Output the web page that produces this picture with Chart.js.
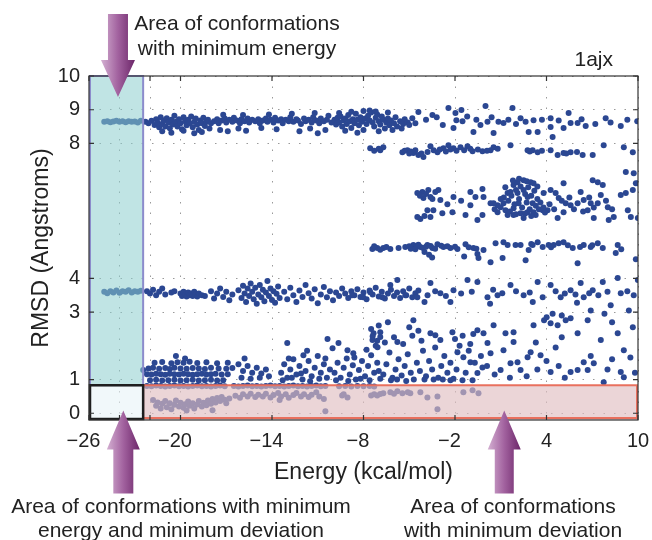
<!DOCTYPE html>
<html>
<head>
<meta charset="utf-8">
<script src="https://cdn.jsdelivr.net/npm/chart.js@4.4.1/dist/chart.umd.min.js"></script>
<style>
  html, body { margin: 0; padding: 0; background: #fff; }
  canvas { display: block; }
</style>
</head>
<body>
<canvas id="rmsdChart" width="652" height="540"></canvas>
<script>
// Axis ticks
const energyTicks = [-26, -24, -22, -20, -14, -8, -2, 4, 10];
const energyLabelled = [-26, -20, -14, -8, -2, 4, 10];
const rmsdTicks = [0, 1, 3, 4, 8, 9, 10];

// Highlighted areas (energy split and rmsd limit)
const minEnergyEdge = -22.45;
const minRmsdEdge = 0.83;

// [energy, rmsd] of each conformation, grouped by rmsd band
const band9 = [
  [-25.0,8.64],[-24.8,8.66],[-24.6,8.63],[-24.4,8.65],[-24.2,8.67],[-24.0,8.64],[-23.8,8.66],[-23.6,8.63],[-23.4,8.66],[-23.2,8.64],[-23.0,8.65],[-22.8,8.62],[-22.6,8.67],
  [-22.3,8.64],[-22.1,8.60],[-21.9,8.67],[-21.7,8.55],[-21.6,8.72],[-21.5,8.62],[-21.4,8.48],[-21.3,8.78],[-21.2,8.58],[-21.1,8.68],[-21.0,8.50],[-20.9,8.75],[-20.8,8.62],[-20.7,8.45],[-20.6,8.70],[-20.5,8.56],[-20.4,8.82],[-20.3,8.64],[-20.2,8.50],[-20.1,8.72],[-20.0,8.60],[-19.9,8.42],[-19.8,8.78],[-19.7,8.66],[-19.6,8.54],[-19.5,8.70],[-19.4,8.60],[-19.3,8.80],[-19.2,8.48],[-19.1,8.64],[-19.0,8.74],[-18.9,8.56],[-18.8,8.40],[-18.7,8.68],[-18.6,8.60],[-18.5,8.76],[-18.4,8.52],[-18.3,8.64],[-18.2,8.70],[-18.1,8.44],[-18.0,8.60],
  [-21.2,8.36],[-20.6,8.32],[-19.8,8.38],[-19.1,8.30],[-18.6,8.34],
  [-17.8,8.66],[-17.6,8.72],[-17.5,8.60],[-17.3,8.68],[-17.1,8.74],[-17.0,8.62],[-16.8,8.70],[-16.6,8.64],[-16.5,8.76],[-16.3,8.68],[-16.1,8.60],[-16.0,8.72],[-15.8,8.66],[-15.6,8.74],[-15.5,8.62],[-15.3,8.70],[-15.1,8.66],[-14.9,8.72],[-14.8,8.60],[-14.6,8.68],[-14.4,8.74],[-14.3,8.64],[-14.1,8.70],[-13.9,8.62],[-13.8,8.76],[-13.6,8.68],[-13.4,8.72],[-13.3,8.60],[-13.1,8.70],[-12.9,8.66],[-12.8,8.78],[-12.6,8.64],[-12.4,8.72],[-12.3,8.68],[-12.1,8.58],[-11.9,8.74],[-11.8,8.66],[-11.6,8.70],[-11.4,8.62],[-11.3,8.78],[-11.1,8.68],[-10.9,8.60],[-10.8,8.74],[-10.6,8.66],[-10.4,8.70],[-10.3,8.82],[-10.1,8.62],
  [-17.4,8.40],[-16.9,8.36],[-16.2,8.44],[-15.7,8.38],[-14.7,8.46],[-13.7,8.42],[-12.2,8.36],[-11.5,8.44],[-11.0,8.30],[-10.5,8.40],
  [-17.2,8.85],[-15.9,8.84],[-14.2,8.86],[-12.7,8.88],[-11.2,8.90],
  [-9.9,8.70],[-9.8,8.56],[-9.7,8.76],[-9.6,8.62],[-9.5,8.80],[-9.4,8.50],[-9.3,8.68],[-9.2,8.74],[-9.1,8.58],[-9.0,8.84],[-8.9,8.66],[-8.8,8.46],[-8.7,8.72],[-8.6,8.60],[-8.5,8.88],[-8.4,8.70],[-8.3,8.54],[-8.2,8.78],[-8.1,8.64],[-8.0,8.40],[-7.9,8.74],[-7.8,8.58],[-7.7,8.82],[-7.6,8.68],[-7.5,8.92],[-7.4,8.62],[-7.3,8.50],[-7.2,8.76],[-7.1,8.86],[-7.0,8.66],[-6.9,8.56],[-6.8,8.80],[-6.7,8.70],[-6.6,8.44],[-6.5,8.62],[-6.4,8.74],[-6.3,8.54],[-6.2,8.68],[-6.0,8.60],[-5.9,8.78],[-5.8,8.50],[-5.6,8.66],[-5.4,8.58],[-5.3,8.72],[-5.1,8.62],
  [-9.6,8.90],[-8.8,8.94],[-8.0,8.96],[-7.6,8.98],[-7.2,8.95],[-6.4,8.92],[-9.2,8.38],[-8.4,8.32],[-7.0,8.36],[-6.1,8.40],[-5.5,8.44],[-5.0,8.55],
  [-4.40,8.93],[-3.48,8.84],[-2.43,9.05],[-1.97,8.90],[-1.58,8.99],[-2.10,8.46],[-1.91,8.69],[-1.51,8.66],[0.00,9.11],[-0.79,8.34],[-0.33,8.55],[0.13,8.64],[0.53,8.31],[0.85,8.64],[1.18,8.61],[1.77,9.05],[2.30,8.75],[2.63,8.64],[2.83,8.34],[3.15,8.69],[3.42,8.34],[4.27,8.75],[4.27,8.49],[4.40,8.19],[5.12,8.46],[5.45,8.90],[5.58,8.61],[6.04,8.61],[6.57,8.52],[7.88,8.75],[8.87,8.52],[9.95,8.66],
  [-4.8,8.75],[-4.6,8.60],[-3.9,8.70],[-3.2,8.78],[-2.8,8.55],[-1.2,8.80],[-0.6,8.70],[0.4,8.78],[1.5,8.70],[2.0,8.58],[3.7,8.70],[4.8,8.68],[6.3,8.72],[7.2,8.58],[8.2,8.62],[9.3,8.70]
];

const band8 = [
  [-7.56,7.86],[-6.90,7.80],[-6.70,7.89],[-5.45,7.74],[-5.12,7.80],[-4.73,7.72],[-4.40,7.66],[-4.07,7.60],[-3.61,7.92],[-3.15,7.74],[-2.76,7.86],[-2.43,7.95],[-2.10,7.86],[-1.64,7.89],[-1.18,7.92],[-0.85,7.77],[-0.20,7.77],[0.33,7.80],[0.53,7.89],[1.64,7.95],[2.76,7.80],[3.09,7.80],[3.42,7.74],[4.27,7.80],[4.73,7.66],[5.12,7.72],[5.58,7.74],[6.37,7.66],[7.03,7.66],[7.75,7.95],[9.07,7.89],[9.66,7.74],
  [-5.3,7.78],[-5.0,7.70],[-4.9,7.76],[-4.6,7.80],[-4.2,7.70],[-3.8,7.75],[-3.4,7.80],[-3.0,7.82],[-2.6,7.76],[-2.3,7.82],[-1.9,7.78],[-1.4,7.80],[-1.0,7.84],[-0.5,7.82],[0.1,7.78],[0.8,7.84],[2.9,7.76],[3.7,7.78],[5.3,7.70],[6.0,7.75],[-7.3,7.78],[-7.0,7.84]
];

const band6 = [
  [-4.47,6.53],[-4.14,6.56],[-3.75,6.62],[-3.29,6.56],[-3.09,6.62],[-4.07,6.38],[-3.48,6.35],[-2.96,6.32],[-2.10,6.41],[-0.99,6.56],[-0.66,6.41],[-0.20,6.65],[-0.13,6.41],[0.33,6.23],[0.79,6.17],[1.45,6.53],[1.84,6.77],[2.10,6.85],[2.50,6.91],[2.96,6.85],[3.15,6.82],[1.64,6.56],[2.10,6.53],[2.50,6.62],[2.76,6.41],[3.09,6.23],[1.18,6.23],[1.31,6.02],[1.84,6.08],[2.30,5.93],[2.76,5.96],[3.15,5.96],[3.75,6.02],[4.07,6.02],[1.45,5.88],[1.84,5.88],[2.50,5.79],[3.29,5.88],[0.79,5.96],[0.99,6.11],[2.17,6.23],[3.81,6.53],[4.27,6.62],[4.60,6.53],[4.80,6.38],[5.12,6.82],[5.26,6.23],[5.58,6.17],[6.04,6.23],[6.24,6.56],[6.44,6.32],[6.90,6.23],[7.03,6.91],[7.36,6.85],[7.69,6.77],[7.56,6.47],[7.36,6.23],[8.02,6.11],[6.70,6.02],[7.10,5.79],[5.12,5.96],[4.73,5.79],[8.87,6.47],[9.20,6.53],[9.20,7.15],[9.72,7.12],[9.86,6.82],[9.99,6.82],[9.66,6.62],[9.33,6.02],[9.53,5.82],[9.99,5.79],[8.08,5.73],[8.41,5.82],
  [-4.47,5.82],[-4.27,5.76],[-3.61,5.82],[-2.83,5.93],[-3.81,6.02],[-3.42,6.02],[-2.17,5.96],[-1.31,5.88],[-0.53,5.73],[-0.99,6.17],[-0.20,5.88],[0.53,6.23],[-3.61,6.41],
  [1.2,6.40],[1.5,6.30],[1.7,6.45],[1.9,6.20],[2.0,6.62],[2.2,6.35],[2.3,6.72],[2.4,6.10],[2.6,6.50],[2.7,6.25],[2.8,6.70],[2.9,6.05],[3.0,6.45],[3.2,6.60],[3.3,6.15],[3.4,6.35],[3.5,6.05],[3.6,6.25],[3.8,6.10],[3.9,5.95],[1.0,6.35],[0.6,6.05],[1.6,5.98],[2.0,5.90],[2.6,5.92],[3.0,5.85],[1.3,6.70],[1.8,6.90],[2.2,6.95],[2.7,6.88],[3.4,6.72],[4.2,6.20],[4.5,6.05],[5.8,6.05],[6.4,5.98],[6.8,6.40],[7.1,6.10],[7.9,6.30],[8.3,6.05],[5.5,6.40],[5.0,6.30],[-4.3,6.45],[-3.9,6.50],[-2.5,6.20],[-1.6,6.30],[-4.0,5.85]
];

const band5 = [
  [-7.42,4.87],[-7.10,4.90],[-6.70,4.90],[-6.24,4.87],[-5.26,4.93],[-4.73,4.99],[-4.27,4.93],[-3.81,4.99],[-3.48,4.90],[-3.15,5.01],[-2.76,4.93],[-2.30,4.90],[-1.84,4.87],[-1.31,5.01],[-0.79,4.90],[-0.53,4.72],[-0.46,4.60],[-0.13,4.84],[0.33,4.48],[0.66,5.04],[1.18,5.07],[1.12,4.60],[1.45,4.99],[1.97,4.99],[2.30,4.99],[2.83,4.84],[2.63,4.54],[3.09,4.99],[3.42,5.07],[3.75,4.93],[4.14,4.99],[4.47,4.99],[4.80,5.04],[5.12,5.07],[5.72,4.90],[6.04,4.45],[6.44,4.99],[6.90,4.93],[7.36,5.04],[7.69,4.90],[8.67,4.99],[8.54,4.75],[9.86,4.57],
  [-5.0,4.95],[-4.9,4.88],[-4.5,4.96],[-4.1,4.90],[-3.9,4.94],[-3.6,4.96],[-7.3,4.95],[-6.9,4.85],[-6.5,4.93],[-5.7,4.90],[-4.6,4.86],[-4.4,5.00],[-3.3,4.88],[-2.9,4.97],[-2.5,4.95],[-2.0,4.94],[-1.1,4.92],[-0.6,4.88],[-4.0,4.78],[-3.7,4.70],[-3.5,4.62],[-1.4,4.65],[3.0,5.02],[4.3,4.92],[5.4,4.98],[6.2,4.93],[7.0,4.98],[8.9,4.86]
];

const band4 = [
  [-25.0,3.60],[-24.8,3.56],[-24.6,3.62],[-24.4,3.58],[-24.2,3.64],[-24.0,3.57],[-23.8,3.62],[-23.6,3.60],[-23.4,3.65],[-23.2,3.58],[-23.0,3.62],[-22.8,3.60],[-22.6,3.63],
  [-22.2,3.62],[-22.0,3.55],[-21.8,3.66],[-21.6,3.50],[-21.4,3.60],[-21.2,3.70],[-21.0,3.52],[-20.6,3.58],[-20.4,3.62],
  [-20.0,3.55],[-19.9,3.48],[-19.8,3.60],[-19.7,3.52],[-19.6,3.46],[-19.5,3.58],[-19.4,3.50],[-19.3,3.55],[-19.2,3.48],[-19.1,3.60],[-19.0,3.52],[-18.9,3.46],[-18.8,3.55],[-18.6,3.50],[-18.4,3.48],
  [-18.0,3.62],[-17.8,3.40],[-17.6,3.55],[-17.4,3.70],[-17.2,3.45],[-17.0,3.60],[-16.8,3.35],[-16.6,3.52],
  [-16.2,3.65],[-16.0,3.42],[-15.9,3.78],[-15.8,3.55],[-15.7,3.30],[-15.6,3.70],[-15.5,3.48],[-15.4,3.85],[-15.3,3.60],[-15.2,3.38],[-15.1,3.72],[-15.0,3.25],[-14.9,3.52],[-14.8,3.80],[-14.7,3.44],[-14.6,3.66],[-14.5,3.32],[-14.4,3.58],[-14.3,3.92],[-14.2,3.48],[-14.1,3.70],[-14.0,3.36],[-13.9,3.62],[-13.8,3.28],[-13.7,3.54],[-13.6,3.76],[-13.5,3.42],
  [-13.2,3.60],[-13.0,3.38],[-12.8,3.72],[-12.6,3.50],[-12.4,3.30],[-12.2,3.64],[-12.0,3.45],[-11.8,3.80],[-11.6,3.56],[-11.4,3.40],[-11.2,3.68],[-11.0,3.26],[-10.8,3.52],[-10.6,3.74],[-10.4,3.44],[-10.2,3.62],[-10.0,3.35],[-9.8,3.58],[-9.6,3.48],[-9.4,3.70],
  [-9.2,3.55],[-9.0,3.42],[-8.8,3.62],[-8.6,3.50],[-8.4,3.68],[-8.2,3.45],[-8.0,3.58],[-7.8,3.38],[-7.6,3.64],[-7.4,3.52],[-7.2,3.72],[-7.0,3.46],[-6.8,3.60],[-6.6,3.40],[-6.4,3.55],[-6.2,3.66],[-6.0,3.48],[-5.8,3.58],[-5.6,3.42],[-5.4,3.62],[-5.2,3.50],[-5.0,3.70],[-4.8,3.44],[-4.6,3.56],[-4.4,3.64],
  [-8.74,3.50],[-8.02,3.44],[-7.56,3.59],[-6.77,3.44],[-6.24,3.80],[-5.78,3.95],[-5.26,3.50],[-4.47,3.44],[-3.61,3.86],[-2.96,3.56],[-2.10,3.65],[-1.18,3.95],[-0.53,3.89],[0.13,3.44],[0.79,3.50],[1.64,3.80],[2.50,3.50],[3.42,3.89],[3.75,3.44],[4.27,3.80],[4.93,3.44],[5.58,3.65],[6.24,3.86],[6.44,3.44],[7.03,3.65],[7.69,3.89],[8.21,3.20],[8.67,4.01],[8.87,3.56],[9.72,3.50],[9.99,3.95],
  [-3.8,3.50],[-3.3,3.62],[-2.6,3.48],[-1.6,3.55],[-0.9,3.60],[0.5,3.66],[1.1,3.56],[2.0,3.62],[2.9,3.58],[4.6,3.62],[5.2,3.55],[5.9,3.52],[6.8,3.56],[7.4,3.50],[8.0,3.60],[9.3,3.62],[-4.0,3.30],[-2.3,3.30],[0.3,3.25],[3.1,3.30],[6.0,3.28]
];

const band3 = [
  [3.84,2.76],[3.15,2.61],[4.27,2.67],[4.73,2.61],[5.26,2.76],[5.58,2.82],[6.04,2.37],[6.70,2.76],[7.56,2.17],[8.67,2.37],[9.07,1.87],[9.66,2.55],[4.01,2.85],
  [6.9,3.05],[7.8,2.95],[9.4,3.05],[8.3,2.70],[5.0,2.90],[4.4,2.95]
];

const band1 = [
  [-21.7,1.50],[-21.2,1.52],[-20.6,1.48],[-20.2,1.51],[-19.8,1.50],[-19.4,1.53],[-18.9,1.49],[-18.3,1.51],[-17.6,1.48],[-16.9,1.50],
  [-22.1,1.33],[-21.8,1.35],[-21.4,1.32],[-21.0,1.34],[-20.7,1.31],[-20.4,1.35],[-20.0,1.33],[-19.6,1.32],[-19.2,1.34],[-18.8,1.33],[-18.4,1.31],[-18.0,1.35],[-17.5,1.33],[-17.0,1.32],[-16.6,1.34],
  [-22.2,1.16],[-21.9,1.15],[-21.6,1.17],[-21.3,1.16],[-21.0,1.14],[-20.7,1.17],[-20.4,1.16],[-20.1,1.15],[-19.8,1.17],[-19.5,1.16],[-19.2,1.14],[-18.9,1.16],[-18.6,1.17],[-18.3,1.15],[-18.0,1.16],[-17.7,1.17],[-17.3,1.15],[-16.9,1.16],
  [-22.0,0.98],[-21.6,0.99],[-21.2,0.97],[-20.8,0.98],[-20.4,0.99],[-20.0,0.97],[-19.6,0.98],[-19.2,0.99],[-18.8,0.97],[-18.4,0.98],[-18.0,0.99],[-17.6,0.97],[-17.2,0.98],
  [-20.3,1.70],[-19.7,1.62],[-22.45,1.28],
  [-16.2,1.45],[-15.9,1.25],[-15.6,1.40],[-15.3,1.20],[-15.0,1.35],[-14.7,1.18],[-14.4,1.30],[-16.0,1.05],[-15.4,1.02],[-14.8,1.05],[-15.8,1.62],[-14.2,1.10],[-13.0,2.08],[-11.94,1.72],
  [-13.4,1.20],[-13.2,1.45],[-13.0,1.05],[-12.8,1.30],[-12.6,1.60],[-12.4,1.15],[-12.2,1.40],[-12.0,1.00],[-11.8,1.25],[-11.6,1.55],[-11.4,1.10],[-11.2,1.35],[-11.0,1.70],[-10.8,1.20],[-10.6,1.45],[-10.4,1.05],[-10.2,1.30],[-13.3,0.98],[-12.7,1.05],[-12.1,1.18],[-11.5,0.95],[-10.9,1.02],[-10.5,1.62],[-12.9,1.62],[-11.7,1.85],
  [-10.36,2.20],[-9.64,2.08],[-10.03,1.93],[-9.05,1.87],[-8.67,1.78],[-7.34,2.37],[-7.41,2.17],[-7.08,1.96],
  [-9.9,1.20],[-9.7,1.50],[-9.5,1.05],[-9.3,1.35],[-9.1,1.62],[-8.9,1.15],[-8.7,1.42],[-8.5,1.00],[-8.3,1.28],[-8.1,1.55],[-7.9,1.10],[-7.7,1.40],[-7.5,1.72],[-7.3,1.20],[-7.1,1.50],[-6.9,1.02],[-9.8,0.98],[-9.0,0.96],[-8.2,1.02],[-7.6,0.98],[-7.0,1.25],[-8.6,1.65],[-7.8,1.88],[-7.2,2.00],[-7.5,2.50],[-7.0,2.60],[-7.4,2.28],[-6.9,2.40],[-7.1,2.15],
  [-6.90,2.26],[-3.61,2.37],[-3.29,2.31],[-2.96,2.17],[-2.17,2.40],[-0.53,2.46],[-0.13,2.37],[0.53,2.61],[1.31,2.37],[1.84,2.40],[0.13,2.08],[0.33,1.78],[1.18,1.87],[1.84,2.11],[2.76,1.66],[2.96,1.81],[3.61,1.72],[4.27,1.22],[5.58,1.22],[6.04,1.28],[6.70,1.28],[6.44,1.51],[7.10,1.48],[7.75,0.92],[8.87,1.22],[9.07,1.07],[2.30,1.28],[2.10,1.51],[1.64,1.48],[0.99,1.28],[-0.20,1.36],[-0.99,1.51],[-1.45,1.66],[-1.84,1.81],[-0.53,1.19],[-0.85,0.98],[-2.30,0.98],[-1.51,0.98],
  [-6.7,1.15],[-6.5,1.45],[-6.3,1.80],[-6.1,1.05],[-5.9,1.30],[-5.7,1.60],[-5.5,1.12],[-5.3,1.40],[-5.1,1.75],[-4.9,1.20],[-4.7,1.00],[-4.5,1.50],[-4.3,1.25],[-4.1,1.85],[-3.9,1.10],[-3.7,1.55],[-3.5,1.30],[-3.3,1.95],[-3.1,1.05],[-2.9,1.40],[-2.7,1.70],[-2.5,1.20],[-2.3,1.50],[-2.1,1.02],[-1.9,1.30],[-1.7,2.00],[-1.3,1.20],[-1.1,1.85],[-0.7,1.50],[-0.3,1.70],[0.1,1.40],[0.6,1.15],[-6.6,2.10],[-6.0,2.25],[-5.4,2.05],[-4.8,2.30],[-4.2,2.15],[-5.0,2.55],[-4.4,2.45],[-6.4,2.70],[-5.8,1.00],[-4.0,1.00],[-3.4,1.00],[-2.8,1.00],[-5.2,0.96],[-6.2,0.98],[-2.0,2.20],[-1.5,2.30],[-1.0,2.05],[-0.8,2.35],
  [1.6,1.05],[2.7,1.10],[3.4,1.30],[4.0,1.55],[4.8,1.40],[5.2,1.05],[6.9,1.70],[8.3,1.60],[8.0,1.30],[9.5,1.65],[9.8,1.20],[3.3,2.10],[4.6,1.95],[5.0,2.25],[-5.78,2.11],[-4.73,2.76]
];

const band0 = [
  [-22.2,0.81],[-21.9,0.80],[-21.6,0.82],[-21.3,0.81],[-21.0,0.79],[-20.7,0.81],[-20.4,0.82],[-20.1,0.80],[-19.8,0.81],[-19.5,0.79],[-19.2,0.81],[-18.9,0.82],[-18.6,0.80],[-18.3,0.81],[-18.0,0.79],[-17.7,0.81],[-17.4,0.82],[-17.1,0.80],[-16.5,0.81],[-16.2,0.79],[-15.9,0.81],[-15.6,0.82],[-15.3,0.80],[-15.0,0.81],[-14.7,0.79],[-14.4,0.81],[-14.1,0.82],[-13.8,0.80],[-13.5,0.81],[-13.2,0.79],[-12.9,0.81],[-12.6,0.82],[-12.3,0.80],[-12.0,0.81],[-11.7,0.79],[-11.4,0.81],[-11.1,0.82],[-10.8,0.80],[-10.5,0.81],[-9.6,0.80],[-9.2,0.81],[-8.8,0.79],[-8.4,0.81],[-8.0,0.80],[-7.6,0.81],[-7.3,0.79],
  [-21.8,0.39],[-21.6,0.22],[-21.5,0.32],[-21.3,0.14],[-21.2,0.28],[-21.0,0.36],[-20.9,0.18],[-20.7,0.30],[-20.6,0.12],[-20.4,0.25],[-20.3,0.38],[-20.1,0.20],[-20.0,0.31],[-19.8,0.16],[-19.7,0.27],[-19.5,0.35],[-19.4,0.22],[-19.2,0.30],[-19.1,0.14],[-18.9,0.26],[-18.8,0.36],[-18.6,0.20],[-18.5,0.31],[-18.3,0.24],[-18.2,0.38],[-18.0,0.28],[-17.9,0.42],[-17.7,0.32],[-17.6,0.45],[-17.4,0.36],[-17.3,0.48],[-17.1,0.40],[-17.0,0.30],[-16.8,0.44],
  [-16.4,0.52],[-16.1,0.46],[-15.9,0.56],[-15.6,0.50],[-15.4,0.58],[-15.1,0.48],[-14.9,0.55],[-14.6,0.50],[-14.4,0.58],[-14.1,0.47],[-13.9,0.54],[-13.6,0.60],[-13.4,0.50],[-13.1,0.56],[-12.9,0.46],[-12.6,0.54],[-12.4,0.60],[-12.1,0.50],[-11.9,0.56],[-11.6,0.48],[-11.4,0.55],[-11.1,0.62],[-10.9,0.50],[-10.6,0.42],[-10.5,0.06],
  [-19.6,0.08],[-17.9,0.09],[-13.5,0.39],
  [-9.4,0.53],[-9.05,0.47],[-9.3,0.56],[-7.5,0.53],[-7.1,0.53],[-6.7,0.59],[-6.24,0.62],[-5.78,0.65],[-5.45,0.59],[-4.93,0.59],[-4.27,0.62],[-3.81,0.47],[-3.15,0.50],[-3.15,0.12],[-1.45,0.62],[-0.85,0.68],[-0.46,0.59],[-7.3,0.56],[-6.0,0.58],[-5.1,0.62],[-6.9,0.57]
];

const bands = [band9, band8, band6, band5, band4, band3, band1, band0];

const FONT = '"Liberation Sans", Arial, Helvetica, sans-serif';
const INK = "#222";

function drawArrow(ctx, cx, tipY, baseY, endY, shaftHalf, headHalf) {
  const g = ctx.createLinearGradient(cx - headHalf, 0, cx + headHalf, 0);
  g.addColorStop(0, "#d4b0d2");
  g.addColorStop(0.5, "#a2629f");
  g.addColorStop(1, "#6c2669");
  ctx.beginPath();
  ctx.moveTo(cx - shaftHalf, endY);
  ctx.lineTo(cx - shaftHalf, baseY);
  ctx.lineTo(cx - headHalf, baseY);
  ctx.lineTo(cx, tipY);
  ctx.lineTo(cx + headHalf, baseY);
  ctx.lineTo(cx + shaftHalf, baseY);
  ctx.lineTo(cx + shaftHalf, endY);
  ctx.closePath();
  ctx.fillStyle = g;
  ctx.fill();
}

// Boxes, frame, arrows and notes on top of the points
const overlay = {
  id: "overlay",
  afterDatasetsDraw(chart) {
    const { ctx, chartArea: a, scales } = chart;
    const xs = scales.x, ys = scales.y;
    const split = xs.getPixelForValue(minEnergyEdge);
    const low = ys.getPixelForValue(minRmsdEdge);
    ctx.save();

    // minimum energy strip
    ctx.fillStyle = "rgba(140,205,205,0.55)";
    ctx.fillRect(a.left, a.top, split - a.left, low - a.top);
    ctx.strokeStyle = "#8c8ccc";
    ctx.lineWidth = 2;
    ctx.strokeRect(a.left + 1, a.top, split - a.left - 1, low - a.top);

    // minimum deviation band
    ctx.fillStyle = "rgba(225,190,194,0.65)";
    ctx.fillRect(split, low, a.right - split, a.bottom - low);
    ctx.strokeStyle = "#e9705e";
    ctx.lineWidth = 2;
    ctx.strokeRect(split, low, a.right - split - 1, a.bottom - low - 2);

    // both
    ctx.fillStyle = "rgba(232,244,246,0.6)";
    ctx.fillRect(a.left, low, split - a.left, a.bottom - low);
    ctx.strokeStyle = "#1e1e1e";
    ctx.lineWidth = 2.5;
    ctx.strokeRect(a.left + 1, low, split - a.left - 1, a.bottom - low - 1);

    // frame and inward ticks
    ctx.strokeStyle = "#333";
    ctx.lineWidth = 1.2;
    ctx.strokeRect(a.left, a.top, a.right - a.left, a.bottom - a.top);
    ctx.beginPath();
    energyTicks.forEach(v => {
      const px = xs.getPixelForValue(v);
      ctx.moveTo(px, a.bottom); ctx.lineTo(px, a.bottom - 5);
      ctx.moveTo(px, a.top); ctx.lineTo(px, a.top + 5);
    });
    rmsdTicks.forEach(v => {
      const py = ys.getPixelForValue(v);
      ctx.moveTo(a.left, py); ctx.lineTo(a.left + 5, py);
      ctx.moveTo(a.right, py); ctx.lineTo(a.right - 5, py);
    });
    ctx.stroke();

    // arrows
    const topTip = ys.getPixelForValue(9.38);
    drawArrow(ctx, xs.getPixelForValue(-24.1), topTip, topTip - 37, topTip - 83, 10, 17);
    const lowTip = ys.getPixelForValue(0.08);
    drawArrow(ctx, xs.getPixelForValue(-23.75), lowTip, lowTip + 39, lowTip + 83, 10, 16.5);
    drawArrow(ctx, xs.getPixelForValue(1.23), lowTip, lowTip + 39, lowTip + 83, 9.5, 16.5);

    // notes
    ctx.fillStyle = INK;
    ctx.font = "21px " + FONT;
    ctx.textBaseline = "alphabetic";
    ctx.textAlign = "center";
    ctx.fillText("Area of conformations", 237, 30);
    ctx.fillText("with minimum energy", 237, 55);
    ctx.fillText("Area of conformations with minimum", 181, 513);
    ctx.fillText("energy and minimum deviation", 181, 537);
    ctx.fillText("Area of conformations", 513, 513);
    ctx.fillText("with minimum deviation", 513, 537);
    ctx.textAlign = "right";
    ctx.fillText("1ajx", 613, 66);
    ctx.restore();
  }
};

const ctx = document.getElementById("rmsdChart").getContext("2d");
const rmsdChart = new Chart(ctx, {
  type: "scatter",
  data: {
    datasets: bands.map(b => ({
      data: b.map(p => ({ x: p[0], y: p[1] })),
      backgroundColor: "#2b4792",
      borderWidth: 0,
      pointRadius: 3,
    })),
  },
  options: {
    responsive: false,
    animation: false,
    events: [],
    layout: { padding: { left: 0, right: 14, top: 76, bottom: 0 } },
    plugins: { legend: { display: false }, tooltip: { enabled: false } },
    scales: {
      x: {
        type: "linear",
        min: -26,
        max: 10,
        afterBuildTicks: s => { s.ticks = energyTicks.map(v => ({ value: v })); },
        afterFit: s => { s.height = 120; s.paddingLeft = 0; s.paddingRight = 0; },
        grid: { color: "#9a9a9a", lineWidth: 1, drawTicks: false },
        border: { display: false, dash: [1.5, 9] },
        ticks: {
          color: INK,
          padding: 9,
          maxRotation: 0,
          font: { family: FONT, size: 20 },
          callback: v => energyLabelled.includes(v) ? (v < 0 ? "\u2212" + Math.abs(v) + "  " : String(v)) : "",
        },
        title: {
          display: true,
          text: "Energy (kcal/mol)",
          color: INK,
          font: { family: FONT, size: 23 },
          padding: { top: 0, bottom: 54 },
        },
      },
      y: {
        type: "linear",
        min: -0.2,
        max: 10,
        afterBuildTicks: s => { s.ticks = rmsdTicks.map(v => ({ value: v })); },
        afterFit: s => { s.width = 89; s.paddingTop = 0; s.paddingBottom = 0; },
        grid: { color: "#9a9a9a", lineWidth: 1, drawTicks: false },
        border: { display: false, dash: [1.5, 9] },
        ticks: {
          color: INK,
          padding: 9,
          font: { family: FONT, size: 20 },
          callback: v => String(v),
        },
        title: {
          display: true,
          text: "RMSD (Angstroms)",
          color: INK,
          font: { family: FONT, size: 23 },
          padding: { top: 28, bottom: 0 },
        },
      },
    },
  },
  plugins: [overlay],
});
</script>
</body>
</html>
